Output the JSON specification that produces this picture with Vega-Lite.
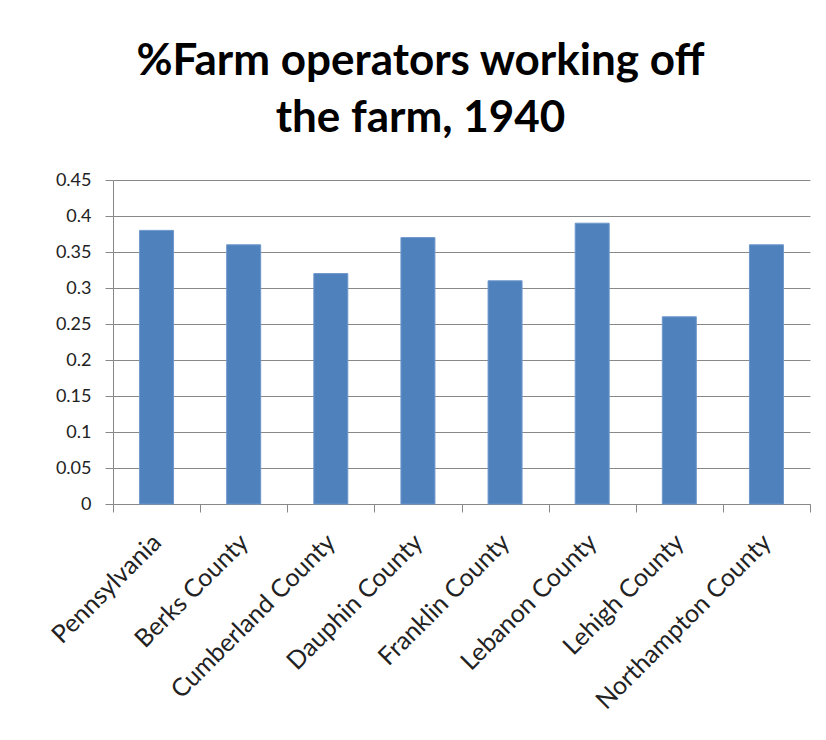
{
  "$schema": "https://vega.github.io/schema/vega-lite/v6.json",
  "autosize": {"type": "none"},
  "width": 697,
  "height": 324,
  "padding": {"left": 113, "top": 180, "right": 16, "bottom": 236},
  "background": "white",
  "title": {
    "text": ["%Farm operators working off", "the farm, 1940"],
    "font": "Lato",
    "fontSize": 44,
    "fontWeight": "bold",
    "color": "#000000",
    "lineHeight": 57,
    "anchor": "middle",
    "frame": "group",
    "dx": -41,
    "offset": 30
  },
  "data": {
    "values": [
      {"area": "Pennsylvania", "share": 0.38},
      {"area": "Berks County", "share": 0.36},
      {"area": "Cumberland County", "share": 0.32},
      {"area": "Dauphin County", "share": 0.37},
      {"area": "Franklin County", "share": 0.31},
      {"area": "Lebanon County", "share": 0.39},
      {"area": "Lehigh County", "share": 0.26},
      {"area": "Northampton County", "share": 0.36}
    ]
  },
  "mark": {"type": "bar", "color": "#4F81BD", "stroke": "#6D97CC", "strokeWidth": 1, "width": {"band": 0.39}},
  "encoding": {
    "x": {
      "field": "area",
      "type": "nominal",
      "sort": null,
      "title": null,
      "scale": {"paddingInner": 0, "paddingOuter": 0},
      "axis": {
        "labelAngle": -45,
        "labelAlign": "right",
        "labelBaseline": "middle",
        "labelFont": "Lato",
        "labelFontSize": 25,
        "labelColor": "#222222",
        "labelPadding": 26,
        "labelLimit": 0,
        "tickSize": 8,
        "tickColor": "#888888",
        "tickBand": "extent",
        "domainColor": "#888888",
        "domainWidth": 1,
        "grid": false
      }
    },
    "y": {
      "field": "share",
      "type": "quantitative",
      "title": null,
      "scale": {"domain": [0, 0.45], "nice": false},
      "axis": {
        "values": [0, 0.05, 0.1, 0.15, 0.2, 0.25, 0.3, 0.35, 0.4, 0.45],
        "format": "~g",
        "labelFont": "Lato",
        "labelFontSize": 18,
        "labelColor": "#222222",
        "labelPadding": 14,
        "tickSize": 8,
        "tickColor": "#888888",
        "domainColor": "#888888",
        "gridColor": "#888888",
        "gridWidth": 1,
        "grid": true
      }
    }
  },
  "config": {"view": {"stroke": null}}
}
